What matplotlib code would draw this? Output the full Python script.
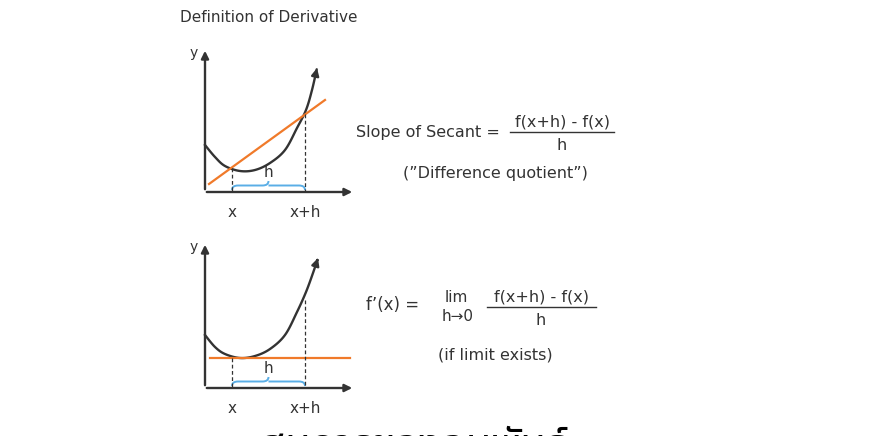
import matplotlib
matplotlib.use("Agg")
import matplotlib.pyplot as plt
import numpy as np
from matplotlib.path import Path
from matplotlib.patches import PathPatch

W, H = 872, 436
curve_top = [(205,145),(215,157),(225,166),(240,171),(255,170),(270,163),(285,150),(297,128),(306,110),(312,90),(317,68)]
curve_bot = [(205,335),(215,347),(225,354),(240,358),(255,356),(270,349),(285,335),(297,312),(306,292),(313,273),(318,258)]
secant = [(209,184),(325,100)]
tangent = [(210,358),(350,358)]

fig = plt.figure(figsize=(W/100, H/100), dpi=100)
ax = fig.add_axes([0,0,1,1])
ax.set_xlim(0, W); ax.set_ylim(H, 0); ax.axis('off')
grey = '#333333'; orange = '#f07a2a'; blue = '#5aaee6'

def smooth(pts, n=12):
    p = np.array(pts, float)
    p = np.vstack([p[0], p, p[-1]])
    out = []
    for i in range(1, len(p)-2):
        p0, p1, p2, p3 = p[i-1], p[i], p[i+1], p[i+2]
        for t in np.linspace(0, 1, n, endpoint=False):
            out.append(0.5*((2*p1) + (-p0+p2)*t + (2*p0-5*p1+4*p2-p3)*t**2 + (-p0+3*p1-3*p2+p3)*t**3))
    out.append(p[-2])
    return np.array(out)

def axes_at(ox, oy, top, right):
    ax.annotate('', xy=(ox, top), xytext=(ox, oy), arrowprops=dict(arrowstyle='-|>', color=grey, lw=1.7, mutation_scale=11))
    ax.annotate('', xy=(right, oy), xytext=(ox-1, oy), arrowprops=dict(arrowstyle='-|>', color=grey, lw=1.7, mutation_scale=11))
    ax.text(ox-7, top+5, 'y', fontsize=10, ha='right', va='center', color=grey)

def brace(x0, x1, y, d=4.5):
    xm = (x0+x1)/2
    verts = [(x0,y),(x0,y-d),(x0+6,y-d),(xm-6,y-d),(xm,y-d),(xm,y-2*d),
             (xm,y-d),(xm,y-d),(xm+6,y-d),(x1-6,y-d),(x1,y-d),(x1,y)]
    codes = [Path.MOVETO,Path.CURVE3,Path.CURVE3,Path.LINETO,Path.CURVE3,Path.CURVE3,
             Path.MOVETO,Path.LINETO,Path.LINETO,Path.LINETO,Path.CURVE3,Path.CURVE3]
    ax.add_patch(PathPatch(Path(verts,codes), fill=False, ec=blue, lw=1.4))

def panel(curve, line, oy, top, px):
    axes_at(205, oy, top, 355)
    s = smooth(curve)
    ax.plot(s[:-3,0], s[:-3,1], color=grey, lw=1.7)
    ax.annotate('', xy=tuple(s[-1]), xytext=tuple(s[-4]), arrowprops=dict(arrowstyle='-|>', color=grey, lw=1.7, mutation_scale=11))
    lx, ly = zip(*line)
    ax.plot(lx, ly, color=orange, lw=1.6)
    for x, y in px:
        ax.plot([x, x], [y, oy], color=grey, lw=0.9, ls=(0,(3,2)))
    brace(232, 305, oy-2)
    ax.text(268, oy-12, 'h', fontsize=11, ha='center', va='bottom', color=grey)
    ax.text(232, oy+20, 'x', fontsize=11, ha='center', va='center', color=grey)
    ax.text(305, oy+20, 'x+h', fontsize=11, ha='center', va='center', color=grey)

panel(curve_top, secant, 192, 48, [(232,168),(305,114)])
panel(curve_bot, tangent, 388, 242, [(232,358),(305,300)])

ax.text(180, 18, 'Definition of Derivative', fontsize=11, va='center', color=grey)
ax.text(356, 132, 'Slope of Secant =', fontsize=11.5, va='center', color=grey)
ax.text(562, 122, 'f(x+h) - f(x)', fontsize=11.5, ha='center', va='center', color=grey)
ax.plot([510, 614], [132, 132], color=grey, lw=1)
ax.text(562, 145, 'h', fontsize=11.5, ha='center', va='center', color=grey)
ax.text(495, 173, '(”Difference quotient”)', fontsize=11.5, ha='center', va='center', color=grey)

ax.text(366, 305, 'f’(x) =', fontsize=12, va='center', color=grey)
ax.text(456, 297, 'lim', fontsize=11, ha='center', va='center', color=grey)
ax.text(458, 316, 'h→0', fontsize=11, ha='center', va='center', color=grey)
ax.text(541, 297, 'f(x+h) - f(x)', fontsize=11.5, ha='center', va='center', color=grey)
ax.plot([487, 596], [307, 307], color=grey, lw=1)
ax.text(541, 320, 'h', fontsize=11.5, ha='center', va='center', color=grey)
ax.text(495, 355, '(if limit exists)', fontsize=11.5, ha='center', va='center', color=grey)

ax.text(415, 447, 'สมการของอนุพันธ์', fontsize=30, fontweight='bold', ha='center', va='center', color='black',
        family=['Noto Sans Thai', 'Noto Sans', 'DejaVu Sans'])
fig.savefig('out.png', dpi=100)
